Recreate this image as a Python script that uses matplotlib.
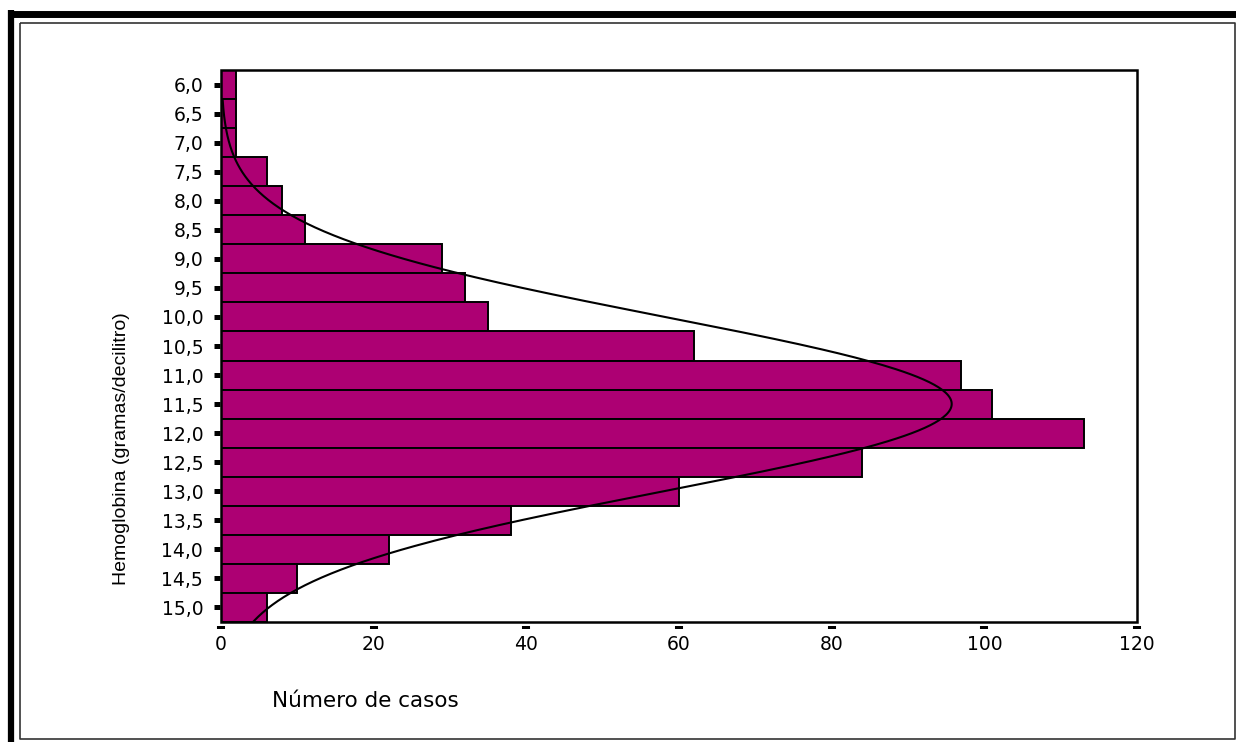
import numpy as np
import matplotlib.pyplot as plt
from matplotlib.lines import Line2D
from matplotlib.patches import Rectangle

# hemoglobin classes (g/dl) and number of cases in each
hb_levels = [6.0, 6.5, 7.0, 7.5, 8.0, 8.5, 9.0, 9.5, 10.0, 10.5,
             11.0, 11.5, 12.0, 12.5, 13.0, 13.5, 14.0, 14.5, 15.0]
n_cases = [2, 2, 2, 6, 8, 11, 29, 32, 35, 62,
           97, 101, 113, 84, 60, 38, 22, 10, 6]
hb_labels = [f"{v:.1f}".replace(".", ",") for v in hb_levels]
count_ticks = [0, 20, 40, 60, 80, 100, 120]

bin_w = 0.5
bar_color = "#ad0073"

W, H = 1236, 742
fig = plt.figure(figsize=(W / 100, H / 100), dpi=100)

# axes box in pixel terms
x0, x1, y0, y1 = 221, 1137, 70, 622
ax = fig.add_axes([x0 / W, 1 - y1 / H, (x1 - x0) / W, (y1 - y0) / H])

ax.barh(hb_levels, n_cases, height=bin_w, color=bar_color,
        edgecolor="black", linewidth=1.4, zorder=2)

# normal curve fitted to the grouped data
vals = np.array(hb_levels)
cnt = np.array(n_cases)
total = cnt.sum()
mean = (vals * cnt).sum() / total
sd = np.sqrt(((vals - mean) ** 2 * cnt).sum() / (total - 1))
yy = np.linspace(hb_levels[0] + bin_w / 2, hb_levels[-1] + bin_w / 2, 400)
xx = total * bin_w / (sd * np.sqrt(2 * np.pi)) * np.exp(-0.5 * ((yy - mean) / sd) ** 2)
ax.plot(xx, yy, color="black", linewidth=1.5, zorder=3)

ax.set_ylim(hb_levels[-1] + bin_w / 2, hb_levels[0] - bin_w / 2)
ax.set_xlim(0, 120)
ax.set_yticks(hb_levels, hb_labels)
ax.set_xticks(count_ticks, [str(t) for t in count_ticks])

# ticks sit a little off the frame, so the spines are pushed out and hidden
for side in ["top", "right", "left", "bottom"]:
    ax.spines[side].set_color("none")
ax.spines["left"].set_position(("outward", 1))
ax.spines["bottom"].set_position(("outward", 3))
ax.tick_params(axis="y", direction="out", length=4.3, width=3.6, pad=7.5, color="black",
               labelsize=13.5, labelfontfamily="DejaVu Sans")
ax.tick_params(axis="x", direction="out", length=2.2, width=5.8, pad=4.5, color="black",
               labelsize=13.5, labelfontfamily="DejaVu Sans")

ax.add_patch(Rectangle((0, 0), 1, 1, transform=ax.transAxes, fill=False,
                       edgecolor="black", linewidth=1.8, zorder=5, clip_on=False))

fig.text(272 / W, 1 - 707 / H, "Número de casos", family="DejaVu Sans",
         fontsize=15.5, ha="left", va="baseline")
fig.text(121 / W, 1 - 449 / H, "Hemoglobina (gramas/decilitro)",
         family="Liberation Sans", fontsize=14, rotation=90,
         ha="center", va="center")

# outer frame: heavy top/left edge plus a thin inner border
def px_line(xs, ys, lw, color):
    fig.add_artist(Line2D([x / W for x in xs], [1 - y / H for y in ys],
                          transform=fig.transFigure, linewidth=lw, color=color,
                          solid_capstyle="butt"))

px_line([8, W], [13.5, 13.5], 5.0, "black")
px_line([11, 11], [10, H], 4.5, "black")
px_line([20, 1235, 1235, 20, 20], [22.5, 22.5, 738.5, 738.5, 22.5], 1.2, "#333333")

fig.savefig("out.png", dpi=100)
